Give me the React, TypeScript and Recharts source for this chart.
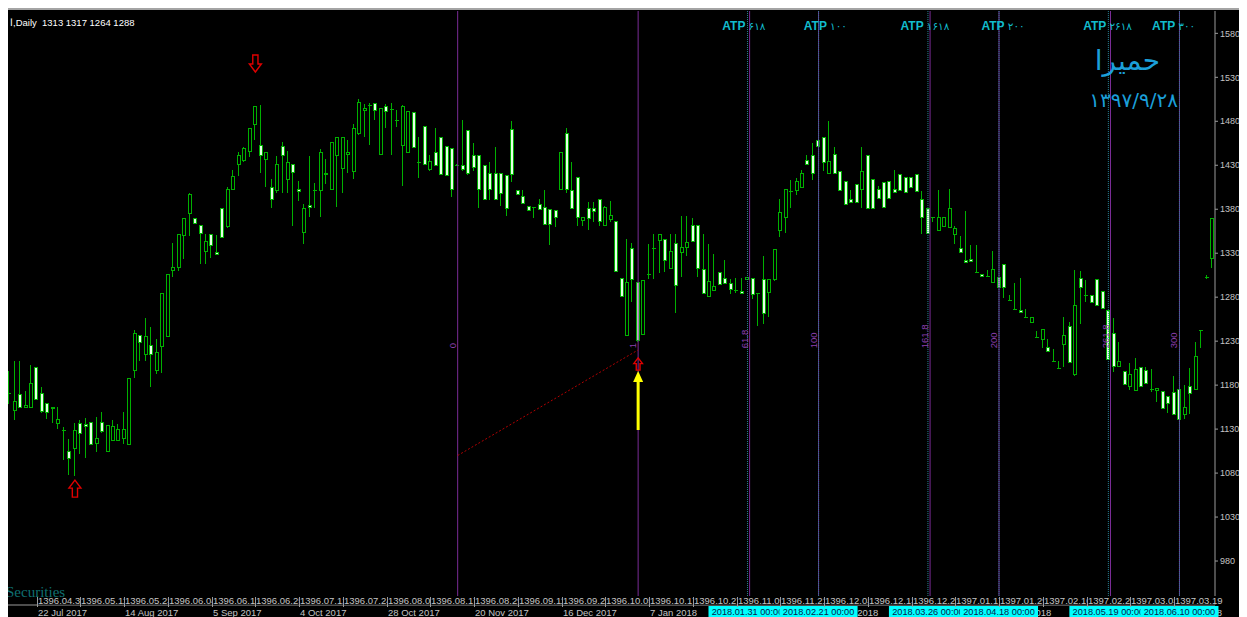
import React from 'react';
import { ComposedChart, Bar, XAxis, YAxis, ReferenceLine, ReferenceDot } from 'recharts';

// daily OHLC (bar 0 = 18 Jul 2017)
const OPEN = [
  1171, 1151, 1169, 1154, 1154, 1200, 1171, 1159, 1155, 1136, 1129, 1104, 1108, 1136, 1135, 1137, 1114, 1137, 1104, 1117,
  1117, 1119, 1113, 1197, 1236, 1215, 1225, 1197, 1224, 1235, 1310, 1314, 1350, 1375, 1370, 1361, 1332, 1351, 1331, 1381,
  1360, 1402, 1431, 1435, 1446, 1476, 1452, 1437, 1405, 1401, 1451, 1414, 1431, 1402, 1353, 1384, 1402, 1401, 1419, 1403,
  1441, 1426, 1442, 1423, 1466, 1492, 1499, 1500, 1442, 1497, 1494, 1481, 1452, 1444, 1490, 1434, 1474, 1425, 1445, 1461,
  1451, 1449, 1430, 1430, 1470, 1441, 1441, 1430, 1421, 1421, 1421, 1418, 1471, 1401, 1395, 1383, 1382, 1385, 1382, 1380,
  1379, 1402, 1466, 1401, 1416, 1367, 1381, 1381, 1391, 1362, 1368, 1366, 1301, 1237, 1335, 1297, 1238, 1306, 1336, 1345,
  1346, 1313, 1341, 1331, 1337, 1361, 1361, 1311, 1281, 1288, 1308, 1301, 1295, 1288, 1286, 1300, 1301, 1285, 1300, 1285,
  1300, 1356, 1371, 1401, 1401, 1405, 1435, 1441, 1458, 1461, 1421, 1442, 1423, 1411, 1391, 1408, 1402, 1441, 1414, 1403,
  1410, 1411, 1402, 1420, 1416, 1416, 1420, 1391, 1381, 1371, 1356, 1360, 1359, 1351, 1335, 1322, 1323, 1309, 1306, 1304,
  1297, 1302, 1317, 1277, 1267, 1265, 1257, 1251, 1235, 1232, 1223, 1208, 1200, 1226, 1247, 1192, 1301, 1282, 1282, 1300,
  1286, 1265, 1239, 1201, 1195, 1178, 1174, 1200, 1197, 1176, 1174, 1173, 1167, 1172, 1175, 1147, 1179, 1175, 1243, 1303,
  1324,
];
const HIGH = [
  1196, 1207, 1207, 1173, 1203, 1200, 1178, 1159, 1155, 1155, 1132, 1119, 1137, 1140, 1143, 1137, 1144, 1149, 1135, 1140,
  1136, 1149, 1187, 1243, 1236, 1256, 1246, 1233, 1284, 1306, 1342, 1351, 1370, 1399, 1370, 1361, 1352, 1351, 1351, 1381,
  1405, 1425, 1445, 1451, 1472, 1497, 1498, 1445, 1414, 1441, 1456, 1446, 1431, 1412, 1386, 1441, 1410, 1449, 1437, 1457,
  1461, 1461, 1459, 1477, 1505, 1500, 1501, 1501, 1494, 1500, 1501, 1493, 1498, 1491, 1490, 1462, 1474, 1442, 1472, 1461,
  1451, 1449, 1431, 1481, 1470, 1455, 1441, 1430, 1434, 1451, 1421, 1418, 1480, 1401, 1402, 1383, 1383, 1392, 1402, 1380,
  1379, 1445, 1472, 1434, 1416, 1371, 1388, 1388, 1391, 1384, 1389, 1366, 1301, 1346, 1342, 1297, 1299, 1341, 1352, 1352,
  1346, 1352, 1352, 1372, 1372, 1370, 1361, 1352, 1341, 1329, 1308, 1322, 1301, 1302, 1302, 1302, 1301, 1285, 1327, 1300,
  1334, 1392, 1402, 1413, 1415, 1425, 1442, 1455, 1458, 1461, 1480, 1451, 1423, 1411, 1402, 1408, 1451, 1441, 1414, 1406,
  1410, 1411, 1425, 1420, 1416, 1416, 1420, 1401, 1381, 1371, 1402, 1371, 1403, 1361, 1350, 1378, 1339, 1339, 1306, 1311,
  1332, 1302, 1317, 1283, 1296, 1302, 1267, 1257, 1241, 1243, 1232, 1221, 1207, 1257, 1252, 1311, 1310, 1300, 1282, 1300,
  1286, 1265, 1256, 1229, 1195, 1205, 1211, 1200, 1201, 1198, 1176, 1173, 1167, 1190, 1175, 1180, 1200, 1229, 1243, 1305,
  1370,
];
const LOW = [
  1159, 1140, 1155, 1154, 1154, 1164, 1148, 1141, 1137, 1130, 1095, 1078, 1077, 1102, 1097, 1112, 1104, 1126, 1104, 1116,
  1116, 1113, 1113, 1188, 1207, 1208, 1178, 1193, 1194, 1235, 1303, 1310, 1323, 1349, 1364, 1318, 1318, 1324, 1328, 1348,
  1359, 1402, 1418, 1434, 1439, 1459, 1421, 1405, 1381, 1398, 1399, 1399, 1361, 1389, 1341, 1371, 1381, 1371, 1409, 1402,
  1382, 1398, 1421, 1414, 1464, 1462, 1453, 1481, 1442, 1472, 1442, 1474, 1406, 1444, 1450, 1416, 1431, 1423, 1430, 1420,
  1418, 1394, 1429, 1423, 1419, 1423, 1381, 1391, 1391, 1391, 1384, 1372, 1411, 1397, 1387, 1378, 1370, 1379, 1363, 1339,
  1360, 1402, 1398, 1381, 1361, 1361, 1356, 1366, 1361, 1362, 1366, 1309, 1281, 1237, 1275, 1229, 1238, 1301, 1301, 1307,
  1309, 1313, 1262, 1303, 1327, 1343, 1303, 1284, 1281, 1288, 1294, 1295, 1284, 1285, 1284, 1300, 1278, 1247, 1250, 1258,
  1298, 1348, 1353, 1381, 1396, 1405, 1431, 1413, 1451, 1423, 1421, 1421, 1401, 1385, 1388, 1388, 1381, 1381, 1381, 1392,
  1382, 1392, 1399, 1401, 1399, 1405, 1400, 1352, 1352, 1366, 1355, 1360, 1359, 1341, 1331, 1320, 1321, 1309, 1304, 1304,
  1297, 1291, 1279, 1277, 1267, 1263, 1256, 1251, 1235, 1222, 1218, 1207, 1199, 1201, 1206, 1190, 1250, 1275, 1274, 1271,
  1267, 1209, 1195, 1201, 1181, 1175, 1174, 1179, 1182, 1172, 1161, 1153, 1148, 1147, 1141, 1141, 1147, 1175, 1222, 1301,
  1313,
];
const CLOSE = [
  1171, 1161, 1155, 1157, 1182, 1164, 1150, 1149, 1153, 1141, 1129, 1097, 1128, 1125, 1133, 1112, 1119, 1127, 1134, 1133,
  1129, 1130, 1187, 1239, 1229, 1235, 1215, 1217, 1284, 1306, 1314, 1351, 1370, 1397, 1364, 1352, 1343, 1339, 1328, 1348,
  1402, 1417, 1441, 1449, 1472, 1497, 1441, 1445, 1391, 1431, 1441, 1433, 1422, 1400, 1381, 1382, 1402, 1444, 1421, 1456,
  1461, 1461, 1445, 1472, 1501, 1494, 1499, 1492, 1494, 1491, 1494, 1481, 1497, 1491, 1450, 1434, 1431, 1434, 1430, 1420,
  1418, 1402, 1430, 1425, 1421, 1427, 1402, 1391, 1402, 1391, 1398, 1381, 1420, 1397, 1387, 1378, 1382, 1380, 1363, 1363,
  1371, 1445, 1402, 1381, 1371, 1371, 1370, 1377, 1366, 1382, 1373, 1309, 1281, 1297, 1300, 1231, 1299, 1306, 1336, 1351,
  1322, 1332, 1293, 1336, 1342, 1343, 1313, 1284, 1298, 1292, 1294, 1295, 1289, 1288, 1284, 1302, 1283, 1285, 1261, 1300,
  1334, 1376, 1402, 1401, 1411, 1421, 1431, 1421, 1451, 1433, 1434, 1421, 1401, 1385, 1388, 1388, 1423, 1381, 1381, 1392,
  1382, 1392, 1399, 1401, 1399, 1405, 1400, 1371, 1352, 1371, 1371, 1371, 1381, 1358, 1331, 1320, 1321, 1309, 1304, 1304,
  1311, 1291, 1291, 1277, 1267, 1263, 1257, 1257, 1235, 1243, 1218, 1208, 1200, 1236, 1206, 1270, 1291, 1282, 1274, 1271,
  1267, 1209, 1201, 1207, 1181, 1192, 1198, 1179, 1182, 1176, 1176, 1153, 1159, 1147, 1141, 1155, 1170, 1212, 1243, 1303,
  1370,
];

const PRICE_TICKS = [980, 1030, 1080, 1130, 1180, 1230, 1280, 1330, 1380, 1430, 1480, 1530, 1580];
const PRICE_MIN = 930;
const PRICE_MAX = 1605.4;
const LINE_BOTTOM = 938; // object lines stop above the date row

// time scale: one tick every 8 bars, Gregorian label every 16
const TIME_TICKS = [5, 13, 21, 29, 37, 45, 53, 61, 69, 77, 85, 93, 101, 109, 117, 125, 133, 141, 149, 157, 165, 173, 181, 189, 197, 205, 213];
const FA_DATES = [
  '1396.04.31', '1396.05.11', '1396.05.23', '1396.06.04', '1396.06.14', '1396.06.25', '1396.07.12', '1396.07.24', '1396.08.06',
  '1396.08.17', '1396.08.29', '1396.09.11', '1396.09.25', '1396.10.05', '1396.10.17', '1396.10.27', '1396.11.09', '1396.11.21',
  '1396.12.03', '1396.12.13', '1396.12.24', '1397.01.17', '1397.01.29', '1397.02.10', '1397.02.23', '1397.03.03', '1397.03.19',
];
const EN_TICKS = [5, 21, 37, 53, 69, 85, 101, 117, 133, 149, 165, 181, 197, 213];
const EN_DATES = [
  '22 Jul 2017', '14 Aug 2017', '5 Sep 2017', '4 Oct 2017', '28 Oct 2017', '20 Nov 2017', '16 Dec 2017', '7 Jan 2018',
  '29 Jan 2018', '22 Feb 2018', '14 Mar 2018', '18 Apr 2018', '13 May 2018', '9 Jun 2018',
];

// fibo time zones (0 and 1 anchored on bars 82 / 115)
const FIB_POS = [82, 115, 135.39, 148, 168.39, 181, 201.39, 214];
const FIB_LABELS = ['0', '1', '61.8', '100', '161.8', '200', '261.8', '300'];
const FIB_LABEL_PRICE = 1222;

// ATP vertical lines
const ATP_POS = [135, 148, 168, 181, 201, 214];
const ATP_NUM = ['۶۱۸', '۱۰۰', '۱۶۱۸', '۲۰۰', '۲۶۱۸', '۳۰۰'];
const ATP_TEXT_POS = [130.4, 145.3, 163, 177.8, 196.4, 209];
const ATP_TEXT_PRICE = 1584;
const ATP_DATES = ['2018.01.31 00:00', '2018.02.21 00:00', '2018.03.26 00:00', '2018.04.18 00:00', '2018.05.19 00:00', '2018.06.10 00:00'];

// trendline + arrows
const TREND = [{ x: 82, y: 1100 }, { x: 115, y: 1220 }];
const ARROW_POS = [45, 12, 115];
const ARROW_PRICE = [1536, 1072, 1211];
const ARROW_DIR = ['down', 'up', 'up'];
const ARROW_SCALE = [1, 1, 0.72];
const YELLOW = { x: 115, from: 1129, to: 1196 };

const GREEN = '#00b000';
const BEAR_FILL = '#e6ffe6';
const AXIS = '#9a9a9a';
const AXIS_TXT = '#c4c4c4';
const PURPLE = '#7a2c96';
const TEAL = '#2a8498';
const CYAN_TXT = '#12bccd';
const FONT = "'Liberation Sans', Arial, sans-serif";

const data = OPEN.map((o, j) => ({ j, o, h: HIGH[j], l: LOW[j], c: CLOSE[j] }));

function Candle(props: any) {
  const { x, y, width, height, payload } = props;
  if (x == null || y == null || !payload) return null;
  const { o, h, l, c } = payload;
  const top = Math.min(y, y + height);
  const span = Math.abs(height);
  const k = h > l ? span / (h - l) : 0;
  const py = (v: number) => top + (h - v) * k;
  const cx = Math.round(x + width / 2);
  const bTop = py(Math.max(o, c));
  const bBot = py(Math.min(o, c));
  return (
    <g shapeRendering="crispEdges">
      <line x1={cx - 0.5} x2={cx - 0.5} y1={top} y2={top + Math.max(span, 1)} stroke={GREEN} />
      {bBot - bTop < 1.5 ? (
        <line x1={cx - 2} x2={cx + 2} y1={Math.round(bTop) + 0.5} y2={Math.round(bTop) + 0.5} stroke={GREEN} />
      ) : (
        <rect x={cx - 1.5} y={bTop} width={3} height={bBot - bTop} fill={c > o ? '#000' : BEAR_FILL} stroke={GREEN} />
      )}
    </g>
  );
}

// shamsi date row sits just above the time axis line; each label hides the tail of the previous one
function TimeTick({ x, y, payload }: any) {
  const k = TIME_TICKS.indexOf(payload.value);
  const x0 = Math.round(x);
  return (
    <g fontFamily={FONT}>
      <rect x={x0 + 1} y={y - 9} width={50} height={8.5} fill="#000" />
      <text x={x0 + 1} y={y - 1.5} fill={AXIS_TXT} fontSize={9.5}>{FA_DATES[k]}</text>
      <line x1={x0 + 0.5} x2={x0 + 0.5} y1={y - 8} y2={y + 2} stroke={AXIS} />
    </g>
  );
}

function arrowShape(dir: string, s: number) {
  return (p: any) => {
    const { cx, cy } = p;
    const sg = dir === 'down' ? -1 : 1;
    const hw = 6 * s, sw = 2.6 * s, hh = 8 * s, tot = 17 * s;
    const d = `M${cx} ${cy} L${cx + hw} ${cy + sg * hh} L${cx + sw} ${cy + sg * hh} L${cx + sw} ${cy + sg * tot} L${cx - sw} ${cy + sg * tot} L${cx - sw} ${cy + sg * hh} L${cx - hw} ${cy + sg * hh} Z`;
    return <path d={d} fill="none" stroke="#e00000" strokeWidth={1.4} />;
  };
}

export default function App() {
  return (
    <div style={{ position: 'relative', width: 1239, height: 609, background: '#000', overflow: 'hidden' }}>
      <div style={{ height: 2, background: '#a4a4a4' }} />
      <ComposedChart width={1239} height={607} data={data} margin={{ top: 1, right: 0, bottom: 0, left: 0 }}>
        <XAxis
          dataKey="j"
          type="number"
          domain={[-0.24, 220.5]}
          allowDataOverflow
          ticks={TIME_TICKS}
          interval={0}
          height={12}
          tickSize={0}
          tickMargin={0}
          axisLine={{ stroke: AXIS }}
          tickLine={false}
          tick={<TimeTick />}
        />
        <YAxis
          orientation="right"
          type="number"
          domain={[PRICE_MIN, PRICE_MAX]}
          allowDataOverflow
          ticks={PRICE_TICKS}
          interval={0}
          width={32}
          tickSize={3}
          tickMargin={2}
          axisLine={{ stroke: AXIS }}
          tickLine={{ stroke: AXIS }}
          tick={{ fill: AXIS_TXT, fontSize: 9, fontFamily: FONT }}
        />

        {FIB_POS.map((p, i) => (
          <ReferenceLine
            key={'f' + i}
            segment={[{ x: p, y: LINE_BOTTOM }, { x: p, y: PRICE_MAX }]}
            stroke={PURPLE}
            ifOverflow="visible"
          />
        ))}
        {ATP_POS.map((p, i) => (
          <ReferenceLine
            key={'a' + i}
            segment={[{ x: p, y: LINE_BOTTOM }, { x: p, y: PRICE_MAX }]}
            stroke={TEAL}
            strokeDasharray="1 1"
            ifOverflow="visible"
          />
        ))}
        <ReferenceLine segment={TREND} stroke="#b00000" strokeDasharray="2 2" ifOverflow="visible" />

        <Bar dataKey={(d: any) => [d.l, d.h]} shape={<Candle />} isAnimationActive={false} />

        {FIB_POS.map((p, i) => (
          <ReferenceDot
            key={'fl' + i}
            x={p}
            y={FIB_LABEL_PRICE}
            ifOverflow="visible"
            shape={(s: any) => (
              <text
                x={s.cx - 2}
                y={s.cy}
                transform={`rotate(-90 ${s.cx - 2} ${s.cy})`}
                fill="#8c3fae"
                fontSize={9.5}
                fontFamily={FONT}
              >
                {FIB_LABELS[i]}
              </text>
            )}
          />
        ))}
        {ATP_TEXT_POS.map((p, i) => (
          <ReferenceDot
            key={'at' + i}
            x={p}
            y={ATP_TEXT_PRICE}
            ifOverflow="visible"
            shape={(s: any) => (
              <text x={s.cx} y={s.cy} fill={CYAN_TXT} fontFamily={FONT}>
                <tspan fontSize={12} fontWeight="bold">ATP </tspan>
                <tspan fontSize={10.5} fontFamily="'DejaVu Sans', sans-serif">{ATP_NUM[i]}</tspan>
              </text>
            )}
          />
        ))}

        {/* gregorian dates under the axis line, then the highlighted line-time boxes over them */}
        {EN_TICKS.map((p, i) => (
          <ReferenceDot
            key={'en' + i}
            x={p}
            y={PRICE_MIN}
            ifOverflow="visible"
            shape={(s: any) => (
              <text x={Math.round(s.cx) + 1} y={s.cy + 11} fill={AXIS_TXT} fontSize={9.5} fontFamily={FONT}>
                {EN_DATES[i]}
              </text>
            )}
          />
        ))}
        {ATP_POS.map((p, i) => (
          <ReferenceDot
            key={'ad' + i}
            x={p}
            y={PRICE_MIN}
            ifOverflow="visible"
            shape={(s: any) => (
              <g fontFamily={FONT} fontSize={9.2}>
                <rect x={s.cx - 39} y={s.cy + 1} width={78} height={11} fill="#00ffff" />
                <text x={s.cx} y={s.cy + 10} textAnchor="middle" fill="#06204a">{ATP_DATES[i]}</text>
              </g>
            )}
          />
        ))}

        <ReferenceLine
          segment={[{ x: YELLOW.x, y: YELLOW.from }, { x: YELLOW.x, y: YELLOW.to - 12 }]}
          stroke="#ffff00"
          strokeWidth={3}
          ifOverflow="visible"
        />
        <ReferenceDot
          x={YELLOW.x}
          y={YELLOW.to}
          ifOverflow="visible"
          shape={(s: any) => (
            <path d={`M${s.cx} ${s.cy} L${s.cx + 5} ${s.cy + 11} L${s.cx - 5} ${s.cy + 11} Z`} fill="#ffff00" />
          )}
        />
        {ARROW_POS.map((p, i) => (
          <ReferenceDot
            key={'ar' + i}
            x={p}
            y={ARROW_PRICE[i]}
            ifOverflow="visible"
            shape={arrowShape(ARROW_DIR[i], ARROW_SCALE[i])}
          />
        ))}
      </ComposedChart>

      <div style={{ position: 'absolute', left: 2, top: 9, color: '#fff', fontFamily: FONT, fontSize: 9.5, whiteSpace: 'pre', lineHeight: '12px' }}>
        {'ا,Daily  1313 1317 1264 1288'}
      </div>
      <div style={{ position: 'absolute', right: 87, top: 35, color: '#1b9fd9', fontFamily: "'DejaVu Sans', sans-serif", fontSize: 28, direction: 'rtl', lineHeight: '36px' }}>
        حمیرا
      </div>
      <div style={{ position: 'absolute', right: 69, top: 79, color: '#1b9fd9', fontFamily: "'DejaVu Sans', sans-serif", fontSize: 20, lineHeight: '26px' }}>
        ۱۳۹۷/۹/۲۸
      </div>
      <div style={{ position: 'absolute', left: -2, top: 575, color: '#0f6f70', fontFamily: "'Liberation Serif', serif", fontSize: 15, lineHeight: '18px' }}>
        Securities
      </div>
    </div>
  );
}
